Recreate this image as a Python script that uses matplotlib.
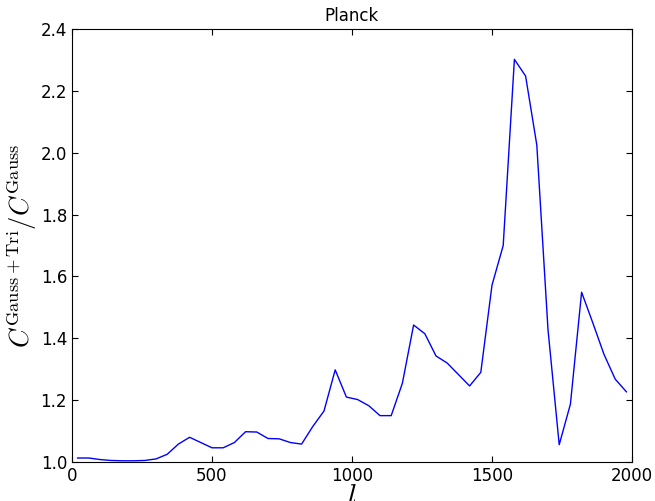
import matplotlib
matplotlib.use("Agg")
import matplotlib.pyplot as plt

plt.rcParams["mathtext.fontset"] = "cm"

# multipole bins
ell = list(range(20, 2000, 40))

# ratio of Gaussian+trispectrum covariance to Gaussian
ratio = [1.013, 1.013, 1.008, 1.005, 1.004, 1.004, 1.005, 1.010, 1.025, 1.058,
         1.080, 1.063, 1.046, 1.046, 1.063, 1.098, 1.097, 1.076, 1.075, 1.063,
         1.058, 1.115, 1.165, 1.298, 1.210, 1.202, 1.182, 1.150, 1.150, 1.255,
         1.443, 1.415, 1.343, 1.320, 1.283, 1.246, 1.290, 1.572, 1.700, 2.302,
         2.248, 2.025, 1.428, 1.056, 1.187, 1.549, 1.450, 1.348, 1.268, 1.227]

fig = plt.figure(figsize=(6.55, 5.01), dpi=100)
ax = fig.add_axes([0.1099, 0.0778, 0.855, 0.8642])
ax.plot(ell, ratio, color="blue", linewidth=1.0)

ax.set_xlim(0, 2000)
ax.set_ylim(1.0, 2.4)
ax.set_xticks([0, 500, 1000, 1500, 2000])
ax.set_yticks([1.0, 1.2, 1.4, 1.6, 1.8, 2.0, 2.2, 2.4])
ax.tick_params(direction="in", top=True, right=True, labelsize=12, length=4)

ax.set_title("Planck", fontsize=12)
ax.set_xlabel(r"$l$", fontsize=21, labelpad=-2)
ax.set_ylabel(r"$C^{\rm Gauss+Tri}/C^{\rm Gauss}$", fontsize=19, labelpad=1)

fig.savefig("out.png", dpi=100)
